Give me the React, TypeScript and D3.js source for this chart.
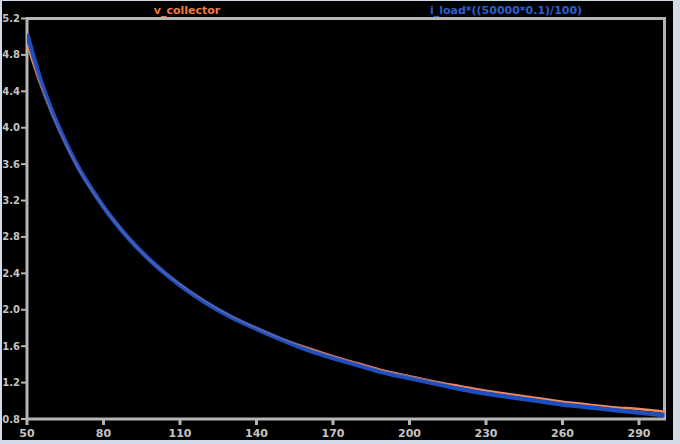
import React from "react";
import * as d3 from "d3";

const xValues = [50, 55, 60, 65, 70, 75, 80, 90, 100, 110, 120, 130, 140, 150, 160, 170, 180, 190, 200, 210, 220, 230, 240, 250, 260, 270, 280, 290, 300];
const iLoad = [5.03, 4.55, 4.17, 3.85, 3.57, 3.34, 3.13, 2.78, 2.5, 2.27, 2.08, 1.92, 1.79, 1.67, 1.56, 1.47, 1.39, 1.31, 1.25, 1.19, 1.13, 1.08, 1.04, 1.0, 0.96, 0.93, 0.9, 0.87, 0.84];
const vCollector = [4.92, 4.5, 4.14, 3.83, 3.56, 3.33, 3.13, 2.78, 2.5, 2.28, 2.09, 1.93, 1.8, 1.68, 1.58, 1.49, 1.41, 1.33, 1.27, 1.21, 1.16, 1.11, 1.07, 1.03, 0.99, 0.96, 0.93, 0.91, 0.88];
const xTicks = [50, 80, 110, 140, 170, 200, 230, 260, 290];
const yTicks = [0.8, 1.2, 1.6, 2.0, 2.4, 2.8, 3.2, 3.6, 4.0, 4.4, 4.8, 5.2];
const seriesNames = ["v_collector", "i_load*((50000*0.1)/100)"];

const W = 680;
const H = 444;

export default function App() {
  const x = d3.scaleLinear().domain([50, 300]).range([27, 664.5]);
  const y = d3.scaleLinear().domain([0.8, 5.2]).range([419, 18.5]);
  const line = d3
    .line<number>()
    .x((_, i) => x(xValues[i]))
    .y((d) => y(d))
    .curve(d3.curveMonotoneX);
  const axisColor = "#b4b4b4";
  const font = "'DejaVu Sans', Verdana, sans-serif";
  return (
    <svg
      width={W}
      height={H}
      style={{ position: "absolute", left: 0, top: 0, display: "block" }}
    >
      <rect x={0} y={0} width={W} height={H} fill="#d2dce8" />
      <rect x={2} y={1} width={671} height={439} fill="#000" />
      <defs>
        <clipPath id="plot">
          <rect x={27} y={10} width={640} height={410} />
        </clipPath>
      </defs>
      <text x={187} y={14} textAnchor="middle" fill="#ee7a44" fontFamily={font} fontSize={11} fontWeight="bold">
        {seriesNames[0]}
      </text>
      <text x={506} y={14} textAnchor="middle" fill="#2f5fcf" fontFamily={font} fontSize={11} fontWeight="bold">
        {seriesNames[1]}
      </text>
      <rect
        x={x(50)}
        y={y(5.2)}
        width={x(300) - x(50)}
        height={y(0.8) - y(5.2)}
        fill="none"
        stroke={axisColor}
        strokeWidth={3}
      />
      {yTicks.map((t) => (
        <g key={"y" + t}>
          <line x1={21} x2={x(50)} y1={y(t)} y2={y(t)} stroke={axisColor} strokeWidth={2} />
          <text
            x={20}
            y={y(t)}
            dy="0.35em"
            textAnchor="end"
            fill="#c4c4c4"
            fontFamily={font}
            fontSize={10}
            fontWeight="bold"
          >
            {t.toFixed(1)}
          </text>
        </g>
      ))}
      {xTicks.map((t) => (
        <g key={"x" + t}>
          <line x1={x(t)} x2={x(t)} y1={y(0.8)} y2={425} stroke={axisColor} strokeWidth={3} />
          <text
            x={x(t)}
            y={437}
            textAnchor="middle"
            fill="#c4c4c4"
            fontFamily={font}
            fontSize={11}
            fontWeight="bold"
          >
            {t}
          </text>
        </g>
      ))}
      <g clipPath="url(#plot)">
        <path d={line(vCollector) || ""} fill="none" stroke="#f08a5a" strokeWidth={2.5} />
        <path d={line(iLoad) || ""} fill="none" stroke="#1f4fbf" strokeWidth={4.5} />
        <path d={line(vCollector) || ""} fill="none" stroke="#f08a5a" strokeWidth={1} opacity={0.5} />
      </g>
    </svg>
  );
}
